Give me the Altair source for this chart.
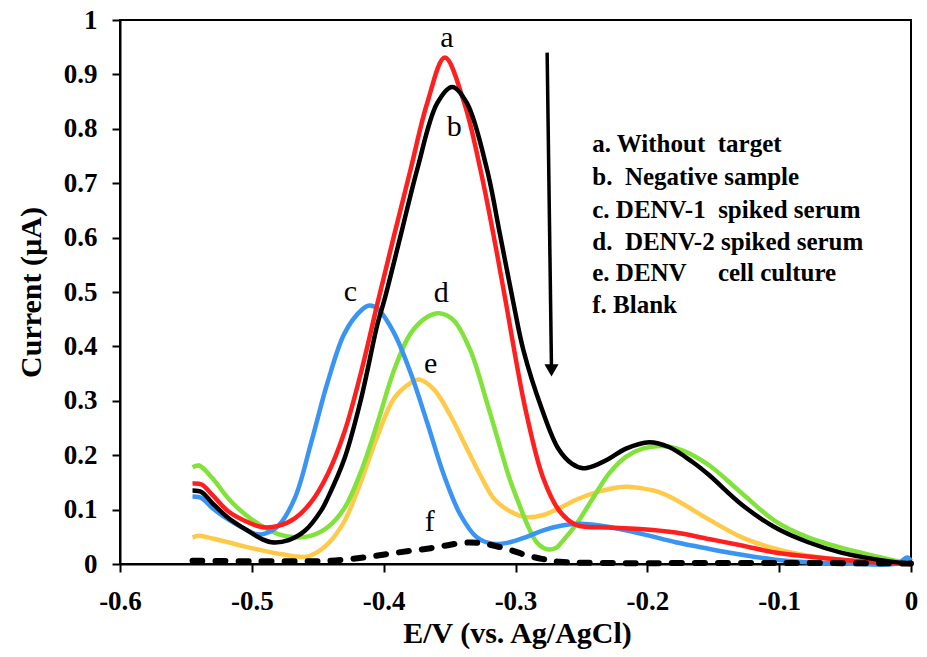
import altair as alt
import pandas as pd

# ---- curve data (E in V vs Ag/AgCl, I in µA) ----
a_E = [-0.545, -0.538, -0.530, -0.518, -0.505, -0.4925, -0.48, -0.4674, -0.4549, -0.4423,
       -0.4297, -0.4172, -0.4046, -0.392, -0.3795, -0.367, -0.3536, -0.3388, -0.3267, -0.3167,
       -0.308, -0.2925, -0.279, -0.2665, -0.254, -0.2288, -0.2036, -0.1785, -0.1534, -0.1283,
       -0.103, -0.078, -0.053, -0.028, 0.0]
a_I = [0.148, 0.146, 0.127, 0.097, 0.079, 0.068, 0.070, 0.084, 0.114, 0.166,
       0.243, 0.352, 0.480, 0.605, 0.726, 0.847, 0.931, 0.847, 0.726, 0.605,
       0.490, 0.285, 0.158, 0.097, 0.072, 0.067, 0.064, 0.058, 0.046, 0.034,
       0.021, 0.0136, 0.0076, 0.003, 0.0]

b_E = [-0.545, -0.538, -0.530, -0.518, -0.505, -0.4925, -0.485, -0.472, -0.4598, -0.447,
       -0.4423, -0.4297, -0.4172, -0.4046, -0.3995, -0.387, -0.3745, -0.3594, -0.348, -0.3368,
       -0.3217, -0.3117, -0.3016, -0.294, -0.280, -0.2675, -0.257, -0.2488, -0.24, -0.2288,
       -0.2162, -0.1986, -0.1836, -0.166, -0.1534, -0.1283, -0.103, -0.078, -0.053, -0.0278, 0.0]
b_I = [0.135, 0.132, 0.112, 0.085, 0.064, 0.046, 0.040, 0.044, 0.061, 0.100,
       0.122, 0.194, 0.303, 0.442, 0.485, 0.605, 0.726, 0.847, 0.877, 0.847,
       0.726, 0.605, 0.480, 0.393, 0.285, 0.212, 0.184, 0.176, 0.181, 0.194,
       0.212, 0.224, 0.215, 0.188, 0.164, 0.109, 0.067, 0.040, 0.021, 0.009, 0.0]

c_E = [-0.545, -0.538, -0.530, -0.518, -0.505, -0.497, -0.490, -0.48, -0.4674, -0.4549,
       -0.4423, -0.4297, -0.4172, -0.4108, -0.4046, -0.392, -0.3795, -0.367, -0.3544, -0.3419,
       -0.3293, -0.3167, -0.3042, -0.2915, -0.279, -0.2665, -0.2514, -0.2288, -0.2036, -0.1785,
       -0.1534, -0.1283, -0.103, -0.078, -0.05, -0.01, -0.003, 0.0]
c_I = [0.124, 0.121, 0.103, 0.082, 0.064, 0.055, 0.056, 0.070, 0.121, 0.224,
       0.336, 0.424, 0.466, 0.475, 0.469, 0.424, 0.351, 0.260, 0.164, 0.091,
       0.049, 0.037, 0.040, 0.050, 0.062, 0.070, 0.074, 0.068, 0.055, 0.040,
       0.028, 0.017, 0.008, 0.003, 0.001, 0.001, 0.012, 0.006]

d_E = [-0.545, -0.540, -0.530, -0.518, -0.505, -0.4925, -0.48, -0.4674, -0.4549, -0.4423,
       -0.4297, -0.4172, -0.4046, -0.392, -0.3795, -0.367, -0.358, -0.3469, -0.3343, -0.3217,
       -0.3092, -0.3042, -0.2966, -0.2915, -0.284, -0.276, -0.269, -0.264, -0.2539, -0.2413,
       -0.2288, -0.2162, -0.2036, -0.1886, -0.1735, -0.1534, -0.1283, -0.103, -0.078, -0.053,
       -0.0278, 0.0]
d_I = [0.178, 0.181, 0.158, 0.121, 0.091, 0.070, 0.055, 0.049, 0.052, 0.068,
       0.103, 0.170, 0.260, 0.357, 0.424, 0.454, 0.461, 0.448, 0.393, 0.297,
       0.194, 0.155, 0.106, 0.075, 0.040, 0.027, 0.030, 0.043, 0.073, 0.121,
       0.167, 0.197, 0.212, 0.217, 0.209, 0.182, 0.130, 0.079, 0.049, 0.030,
       0.015, 0.0]

e_E = [-0.545, -0.540, -0.530, -0.518, -0.505, -0.4925, -0.48, -0.4674, -0.46, -0.4549,
       -0.4423, -0.4297, -0.4172, -0.4046, -0.392, -0.3795, -0.3732, -0.3619, -0.3494, -0.3368,
       -0.3242, -0.3167, -0.3042, -0.2915, -0.279, -0.2665, -0.254, -0.2413, -0.2288, -0.2162,
       -0.2036, -0.191, -0.1785, -0.1534, -0.1283, -0.103, -0.078, -0.053, -0.028, 0.0]
e_I = [0.049, 0.052, 0.047, 0.040, 0.032, 0.025, 0.019, 0.014, 0.013, 0.016,
       0.037, 0.079, 0.152, 0.236, 0.305, 0.333, 0.339, 0.321, 0.273, 0.212,
       0.152, 0.121, 0.097, 0.086, 0.090, 0.103, 0.118, 0.130, 0.138, 0.142,
       0.139, 0.132, 0.118, 0.082, 0.049, 0.028, 0.015, 0.008, 0.003, 0.0]

f_E = [-0.545, -0.50, -0.46, -0.44, -0.4146, -0.3895, -0.3644, -0.3393, -0.3292, -0.3167,
       -0.3042, -0.2915, -0.279, -0.2665, -0.24, -0.10, 0.0]
f_I = [0.006, 0.005, 0.005, 0.006, 0.012, 0.021, 0.029, 0.039, 0.039, 0.034,
       0.026, 0.016, 0.009, 0.004, 0.002, 0.002, 0.001]

# ---- text ----
x_ticks = [-0.6, -0.5, -0.4, -0.3, -0.2, -0.1, 0.0]
y_ticks = [0.0, 0.1, 0.2, 0.3, 0.4, 0.5, 0.6, 0.7, 0.8, 0.9, 1.0]

legend_lines = ["a. Without\u00a0\u00a0target",
                "b.\u00a0\u00a0Negative sample",
                "c. DENV-1\u00a0\u00a0spiked serum",
                "d.\u00a0\u00a0DENV-2 spiked serum",
                "e. DENV\u00a0\u00a0\u00a0\u00a0 cell culture",
                "f. Blank"]
legend_x = [-0.2418] * 6
legend_y = [0.757, 0.697, 0.636, 0.578, 0.520, 0.461]

letters = ["a", "b", "c", "d", "e", "f"]
letter_x = [-0.352, -0.3464, -0.4253, -0.3564, -0.3644, -0.365]
letter_y = [0.950, 0.787, 0.484, 0.482, 0.351, 0.061]

arrow_x = [-0.276]
arrow_y = [0.940]
arrow_x2 = [-0.2727]
arrow_y2 = [0.36]
head_x = [-0.2727]
head_y = [0.356]

SERIF = "Liberation Serif, Times New Roman, serif"

xscale = alt.Scale(domain=[-0.6, 0.0], nice=False, zero=False)
yscale = alt.Scale(domain=[0.0, 1.0], nice=False)

xaxis = alt.Axis(values=x_ticks, title="E/V (vs. Ag/AgCl)",
                 labelExpr="'' + round(datum.value * 10) / 10",
                 tickSize=8, labelPadding=16, labelFlush=False, labelOverlap=False,
                 labelBound=False,
                 titleX=397, titleY=78, titleAlign="center", titleBaseline="alphabetic",
                 grid=False)
yaxis = alt.Axis(values=y_ticks, title="Current (µA)",
                 labelExpr="'' + round(datum.value * 10) / 10",
                 tickSize=8, labelPadding=15, labelFlush=False, labelOverlap=False,
                 labelBound=False,
                 titleX=-89, titleY=272, titleAngle=270, titleAlign="center",
                 titleBaseline="middle", grid=False)


def curve(E, I, color, width, dash=None):
    df = pd.DataFrame({"E": E, "I": I})
    kw = dict(color=color, strokeWidth=width, interpolate="catmull-rom")
    if dash is not None:
        kw["strokeDash"] = dash
        kw["strokeCap"] = "round"
    return alt.Chart(df).mark_line(**kw).encode(
        x=alt.X("E:Q", scale=xscale, axis=xaxis),
        y=alt.Y("I:Q", scale=yscale, axis=yaxis),
    )


layers = [
    curve(e_E, e_I, "#FFC94A", 4.5),
    curve(d_E, d_I, "#80E23A", 4.5),
    curve(c_E, c_I, "#3A95F2", 4.5),
    curve(a_E, a_I, "#FF1F1F", 4.5),
    curve(b_E, b_I, "#000000", 4.5),
    curve(f_E, f_I, "#000000", 6, dash=[10, 13]),
]

legend_df = pd.DataFrame({"E": legend_x, "I": legend_y, "t": legend_lines})
legend = alt.Chart(legend_df).mark_text(
    align="left", baseline="alphabetic", font=SERIF, fontWeight="bold",
    fontSize=25, color="black").encode(
    x=alt.X("E:Q", scale=xscale, axis=xaxis),
    y=alt.Y("I:Q", scale=yscale, axis=yaxis), text="t:N")

letter_df = pd.DataFrame({"E": letter_x, "I": letter_y, "t": letters})
letter_text = alt.Chart(letter_df).mark_text(
    align="center", baseline="alphabetic", font=SERIF, fontWeight="normal",
    fontSize=30, color="black").encode(
    x=alt.X("E:Q", scale=xscale, axis=xaxis),
    y=alt.Y("I:Q", scale=yscale, axis=yaxis), text="t:N")

arrow_df = pd.DataFrame({"E": arrow_x, "I": arrow_y, "E2": arrow_x2, "I2": arrow_y2})
arrow = alt.Chart(arrow_df).mark_rule(color="black", strokeWidth=3.5).encode(
    x=alt.X("E:Q", scale=xscale, axis=xaxis),
    y=alt.Y("I:Q", scale=yscale, axis=yaxis), x2="E2:Q", y2="I2:Q")

head_df = pd.DataFrame({"E": head_x, "I": head_y})
head = alt.Chart(head_df).mark_point(
    shape="triangle-down", filled=True, color="black", size=200, opacity=1).encode(
    x=alt.X("E:Q", scale=xscale, axis=xaxis),
    y=alt.Y("I:Q", scale=yscale, axis=yaxis))

chart = alt.layer(*layers, legend, letter_text, arrow, head).properties(
    width=791, height=544,
    autosize=alt.AutoSizeParams(type="none"),
    padding={"left": 112, "top": 12, "right": 8, "bottom": 85},
).configure_view(
    stroke="black", strokeWidth=2
).configure_axis(
    domainColor="black", domainWidth=2, tickColor="black", tickWidth=2,
    labelFont=SERIF, labelFontWeight="bold", labelFontSize=27, labelColor="black",
    titleFont=SERIF, titleFontWeight="bold", titleFontSize=30, titleColor="black",
)

chart.save("out.html", embed_options={"renderer": "svg", "actions": False})
